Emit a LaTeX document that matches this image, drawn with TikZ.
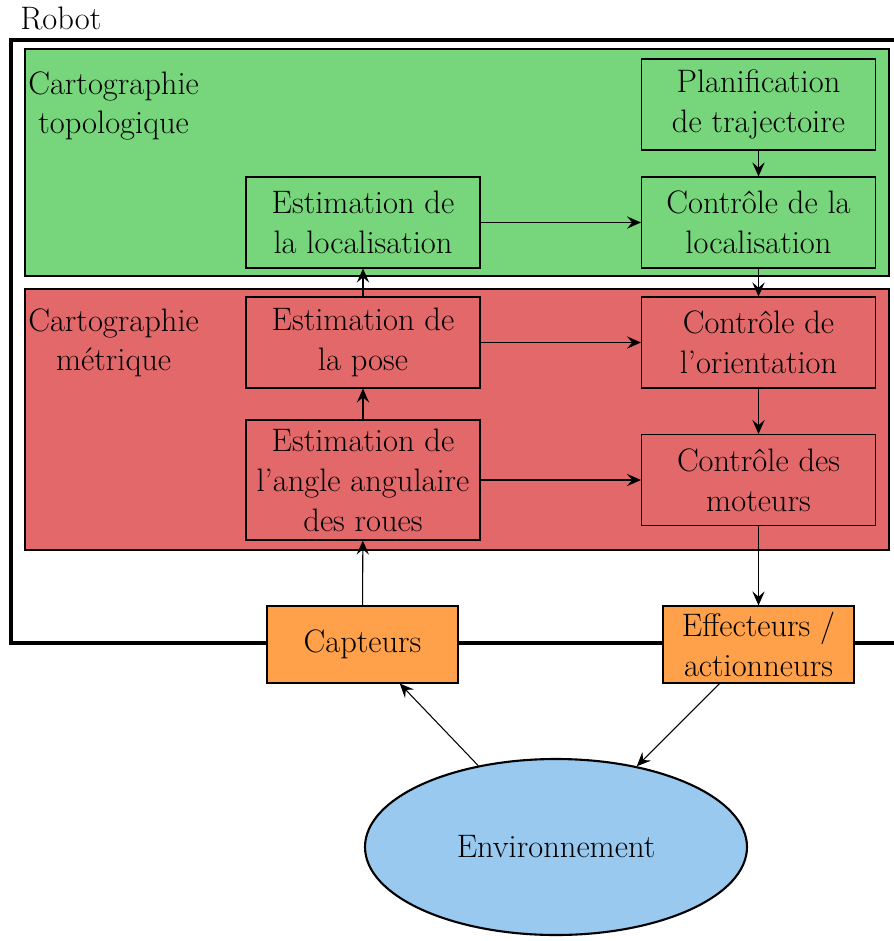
\documentclass[tikz,border=0pt]{standalone}
\usetikzlibrary{arrows.meta,shapes.geometric}
\definecolor{vert}{RGB}{119,214,123}
\definecolor{rouge}{RGB}{227,104,106}
\definecolor{orange}{RGB}{255,160,74}
\definecolor{bleu}{RGB}{153,201,238}
\tikzset{
  bloc/.style={draw, line width=0.6pt, minimum width=4.68cm, minimum height=1.82cm, align=center, inner sep=0pt},
  io/.style={draw, line width=0.6pt, fill=orange, minimum width=3.82cm, minimum height=1.54cm, align=center, inner sep=0pt},
  fleche/.style={-{Stealth[length=8pt,width=7pt,inset=3pt]}, line width=0.6pt}
}
\begin{document}
\begin{tikzpicture}[font=\fontsize{18.5}{22.7}\selectfont]
\useasboundingbox (0,0) rectangle (17.88,-18.82);

% Robot
\node[anchor=base west, inner sep=0pt] (robot) at (0.4,-0.58) {Robot};
\draw[line width=2.4pt] (18.4,-0.8) -- (0.22,-0.8) -- (0.22,-12.86) -- (18.4,-12.86);

% Cartographies
\draw[line width=1.2pt, fill=vert] (0.5,-0.98) rectangle (17.78,-5.52);
\draw[line width=1.2pt, fill=rouge] (0.5,-5.78) rectangle (17.78,-11.0);
\node[anchor=north west, align=center, inner sep=0pt] (topo) at (0.56,-1.42) {Cartographie\\topologique};
\node[anchor=north west, align=center, inner sep=0pt] (metr) at (0.56,-6.16) {Cartographie\\métrique};

% Blocs
\node[bloc] (planif) at (15.17,-2.09) {Planification\\de trajectoire};
\node[bloc] (ctrlloc) at (15.17,-4.45) {Contrôle de la\\localisation};
\node[bloc] (estloc) at (7.26,-4.45) {Estimation de\\la localisation};
\node[bloc] (estpose) at (7.26,-6.85) {Estimation de\\la pose};
\node[bloc, minimum height=2.4cm] (estangle) at (7.26,-9.6) {Estimation de\\l’angle angulaire\\des roues};
\node[bloc] (ctrlorient) at (15.17,-6.85) {Contrôle de\\l’orientation};
\node[bloc] (ctrlmot) at (15.17,-9.6) {Contrôle des\\moteurs};

% Capteurs, effecteurs, environnement
\node[io] (capteurs) at (7.25,-12.89) {Capteurs};
\node[io] (effect) at (15.17,-12.89) {Effecteurs /\\actionneurs};
\node[ellipse, draw, line width=1.2pt, fill=bleu, minimum width=7.64cm, minimum height=3.52cm] (env) at (11.12,-16.94) {Environnement};

% Fleches
\draw[fleche] (planif) -- (ctrlloc);
\draw[fleche] (estloc) -- (ctrlloc);
\draw[fleche] (ctrlloc) -- (ctrlorient);
\draw[fleche] (estpose) -- (estloc);
\draw[fleche] (estpose) -- (ctrlorient);
\draw[fleche] (estangle) -- (estpose);
\draw[fleche] (estangle) -- (ctrlmot);
\draw[fleche] (ctrlorient) -- (ctrlmot);
\draw[fleche] (capteurs) -- (estangle);
\draw[fleche] (ctrlmot) -- (effect);
\draw[fleche] (env) -- (capteurs);
\draw[fleche] (effect) -- (env);
\end{tikzpicture}
\end{document}
